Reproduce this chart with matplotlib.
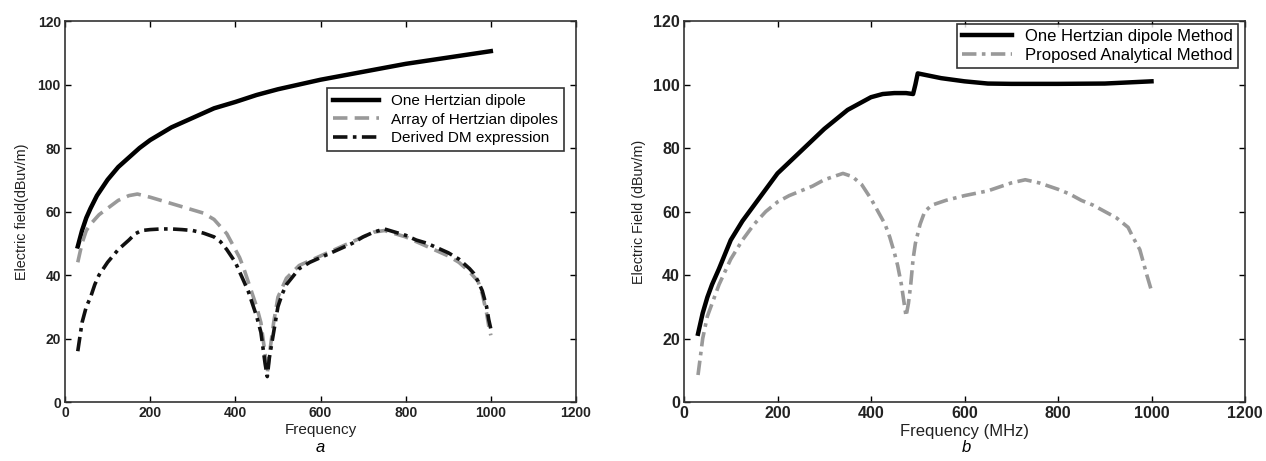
import matplotlib
matplotlib.use("Agg")
import matplotlib.pyplot as plt

plt.rcParams['font.family'] = ['Liberation Sans', 'DejaVu Sans']

# ---- Panel a data ----
fa_one = [30, 40, 50, 60, 75, 100, 125, 150, 175, 200, 225, 250, 275, 300, 350, 400, 450, 500,
          600, 700, 800, 900, 1000]
ea_one = [49, 54, 58, 61, 65, 70, 74, 77, 80, 82.5, 84.5, 86.5, 88, 89.5, 92.5, 94.5, 96.7, 98.5,
          101.5, 104, 106.5, 108.5, 110.5]

fa_arr = [30, 40, 50, 60, 80, 100, 125, 150, 170, 200, 225, 250, 275, 300, 325, 350, 360, 380,
          400, 410, 420, 430, 440, 450, 460, 465, 470, 475, 480, 485, 490, 500, 510, 520, 550,
          575, 600, 625, 650, 675, 700, 725, 750, 775, 800, 825, 850, 875, 900, 925, 950, 970,
          980, 990, 995, 1000]
ea_arr = [44, 50, 54, 56, 59, 61, 63.5, 65, 65.5, 64.5, 63.5, 62.5, 61.5, 60.5, 59.5, 57.5, 56, 53,
          48, 45.5, 42, 38, 34, 30, 25, 20, 15, 9, 15, 20, 25, 33, 36, 39, 43,
          44.5, 46, 47.5, 49, 50.5, 52, 53.5, 54, 53, 52, 50.5, 49, 47.5, 46, 44, 41, 38,
          34, 28, 24, 21]

fa_dm = [30, 40, 50, 60, 70, 80, 90, 100, 125, 150, 165, 180, 200, 225, 250, 275, 300, 325, 350,
         365, 380, 390, 400, 410, 420, 430, 440, 450, 460, 470, 475, 480, 485, 490, 500, 510, 520,
         550, 575, 600, 625, 650, 675, 700, 725, 750, 775, 800, 825, 850, 875, 900, 925, 950, 960,
         970, 980, 990, 995, 1000]
ea_dm = [16, 25, 30, 33, 37, 40, 42, 44, 48, 51, 53, 54, 54.3, 54.5, 54.5, 54.3, 54, 53.2, 52,
         50.5, 48, 46, 44, 41, 38, 35, 31, 27, 22, 12, 8, 14, 18, 22, 30, 34, 37,
         42, 44, 45.5, 47, 48.5, 50, 52, 53.5, 54.5, 53.5, 52.5, 51, 50, 48.5, 47, 45, 42, 40.5,
         38, 35, 30, 26, 23]

# ---- Panel b data ----
fb_one = [30, 40, 50, 60, 75, 100, 125, 150, 175, 200, 225, 250, 275, 300, 325, 350, 375, 400,
          425, 450, 475, 490, 495, 500, 550, 600, 650, 700, 800, 900, 1000]
eb_one = [21.5, 28, 33, 37, 42, 51, 57, 62, 67, 72, 75.5, 79, 82.5, 86, 89, 92, 94, 96,
          97, 97.3, 97.3, 97, 100, 103.5, 102, 101, 100.3, 100.2, 100.2, 100.3, 101]

fb_prop = [30, 40, 50, 60, 75, 100, 125, 150, 175, 200, 225, 250, 275, 300, 320, 340, 360, 380,
           400, 415, 430, 440, 450, 457, 465, 470, 475, 480, 485, 490, 495, 505, 515, 530, 560,
           600, 650, 680, 700, 730, 760, 800, 825, 850, 875, 900, 925, 950, 960, 975, 990, 1000]
eb_prop = [8.5, 20, 27, 31, 37, 45, 51, 56, 60, 63, 65, 66.5, 68, 70, 71, 72, 71, 68.5,
           64, 60, 56, 52, 47, 43, 37, 32, 27, 31, 37, 45, 50, 56, 60, 62, 63.5,
           65, 66.5, 68, 69, 70, 69, 67, 65.5, 63.5, 62, 60, 58, 55, 52, 48, 40, 35]

xticks = [0, 200, 400, 600, 800, 1000, 1200]
yticks = [0, 20, 40, 60, 80, 100, 120]

W, H = 1266, 461
fig = plt.figure(figsize=(W / 100, H / 100), dpi=100)

def ax_at(l, r, t, b):
    return fig.add_axes([l / W, 1 - b / H, (r - l) / W, (b - t) / H])

axa = ax_at(65, 576, 21, 402)
axb = ax_at(684, 1245, 21, 402)

gray = '#999999'
for ax, ts in ((axa, 10), (axb, 11.5)):
    ax.set_xlim(0, 1200)
    ax.set_ylim(0, 120)
    ax.set_xticks(xticks)
    ax.set_yticks(yticks)
    ax.tick_params(direction='in', length=4, width=1, labelsize=ts, top=True, right=True, pad=3)
    for lab in ax.get_xticklabels() + ax.get_yticklabels():
        lab.set_fontweight('bold')
        lab.set_color('#222222')
    for s in ax.spines.values():
        s.set_linewidth(1.2)
        s.set_color('#333333')

axa.plot(fa_one, ea_one, color='black', lw=3.2, label='One Hertzian dipole')
axa.plot(fa_arr, ea_arr, color=gray, lw=2.6, ls=(0, (4, 2)), label='Array of Hertzian dipoles')
axa.plot(fa_dm, ea_dm, color='#111111', lw=2.6, ls=(0, (4, 1.5, 1, 1.5)), label='Derived DM expression')
axa.set_xlabel('Frequency', fontsize=11, labelpad=2, color='#222222')
axa.set_ylabel('Electric field(dBuv/m)', fontsize=10.4, labelpad=6, color='#222222')
la = axa.legend(loc='upper left', bbox_to_anchor=((327 - 65) / 511, 1 - (88 - 21) / 381),
                prop={'size': 11}, frameon=True, fancybox=False, edgecolor='black',
                handlelength=3.0, borderpad=0.4, labelspacing=0.3, borderaxespad=0)
la.get_frame().set_linewidth(1.2)

axb.plot(fb_one, eb_one, color='black', lw=3.2, label='One Hertzian dipole Method')
axb.plot(fb_prop, eb_prop, color=gray, lw=2.6, ls=(0, (4, 1.5, 1, 1.5)), label='Proposed Analytical Method')
axb.set_xlabel('Frequency (MHz)', fontsize=12, labelpad=2, color='#222222')
axb.set_ylabel('Electric Field (dBuv/m)', fontsize=10.3, labelpad=5, color='#222222')
lb = axb.legend(loc='upper right', bbox_to_anchor=(1 - (1245 - 1238) / 561, 1 - (24 - 21) / 381),
                prop={'size': 12}, frameon=True, fancybox=False, edgecolor='black',
                handlelength=3.0, borderpad=0.3, labelspacing=0.25, borderaxespad=0)
lb.get_frame().set_linewidth(1.2)

fig.text(320 / W, 1 - 447 / H, 'a', fontsize=12, style='italic', ha='center', va='center')
fig.text(966 / W, 1 - 447 / H, 'b', fontsize=12, style='italic', ha='center', va='center')

fig.savefig('out.png', dpi=100)
